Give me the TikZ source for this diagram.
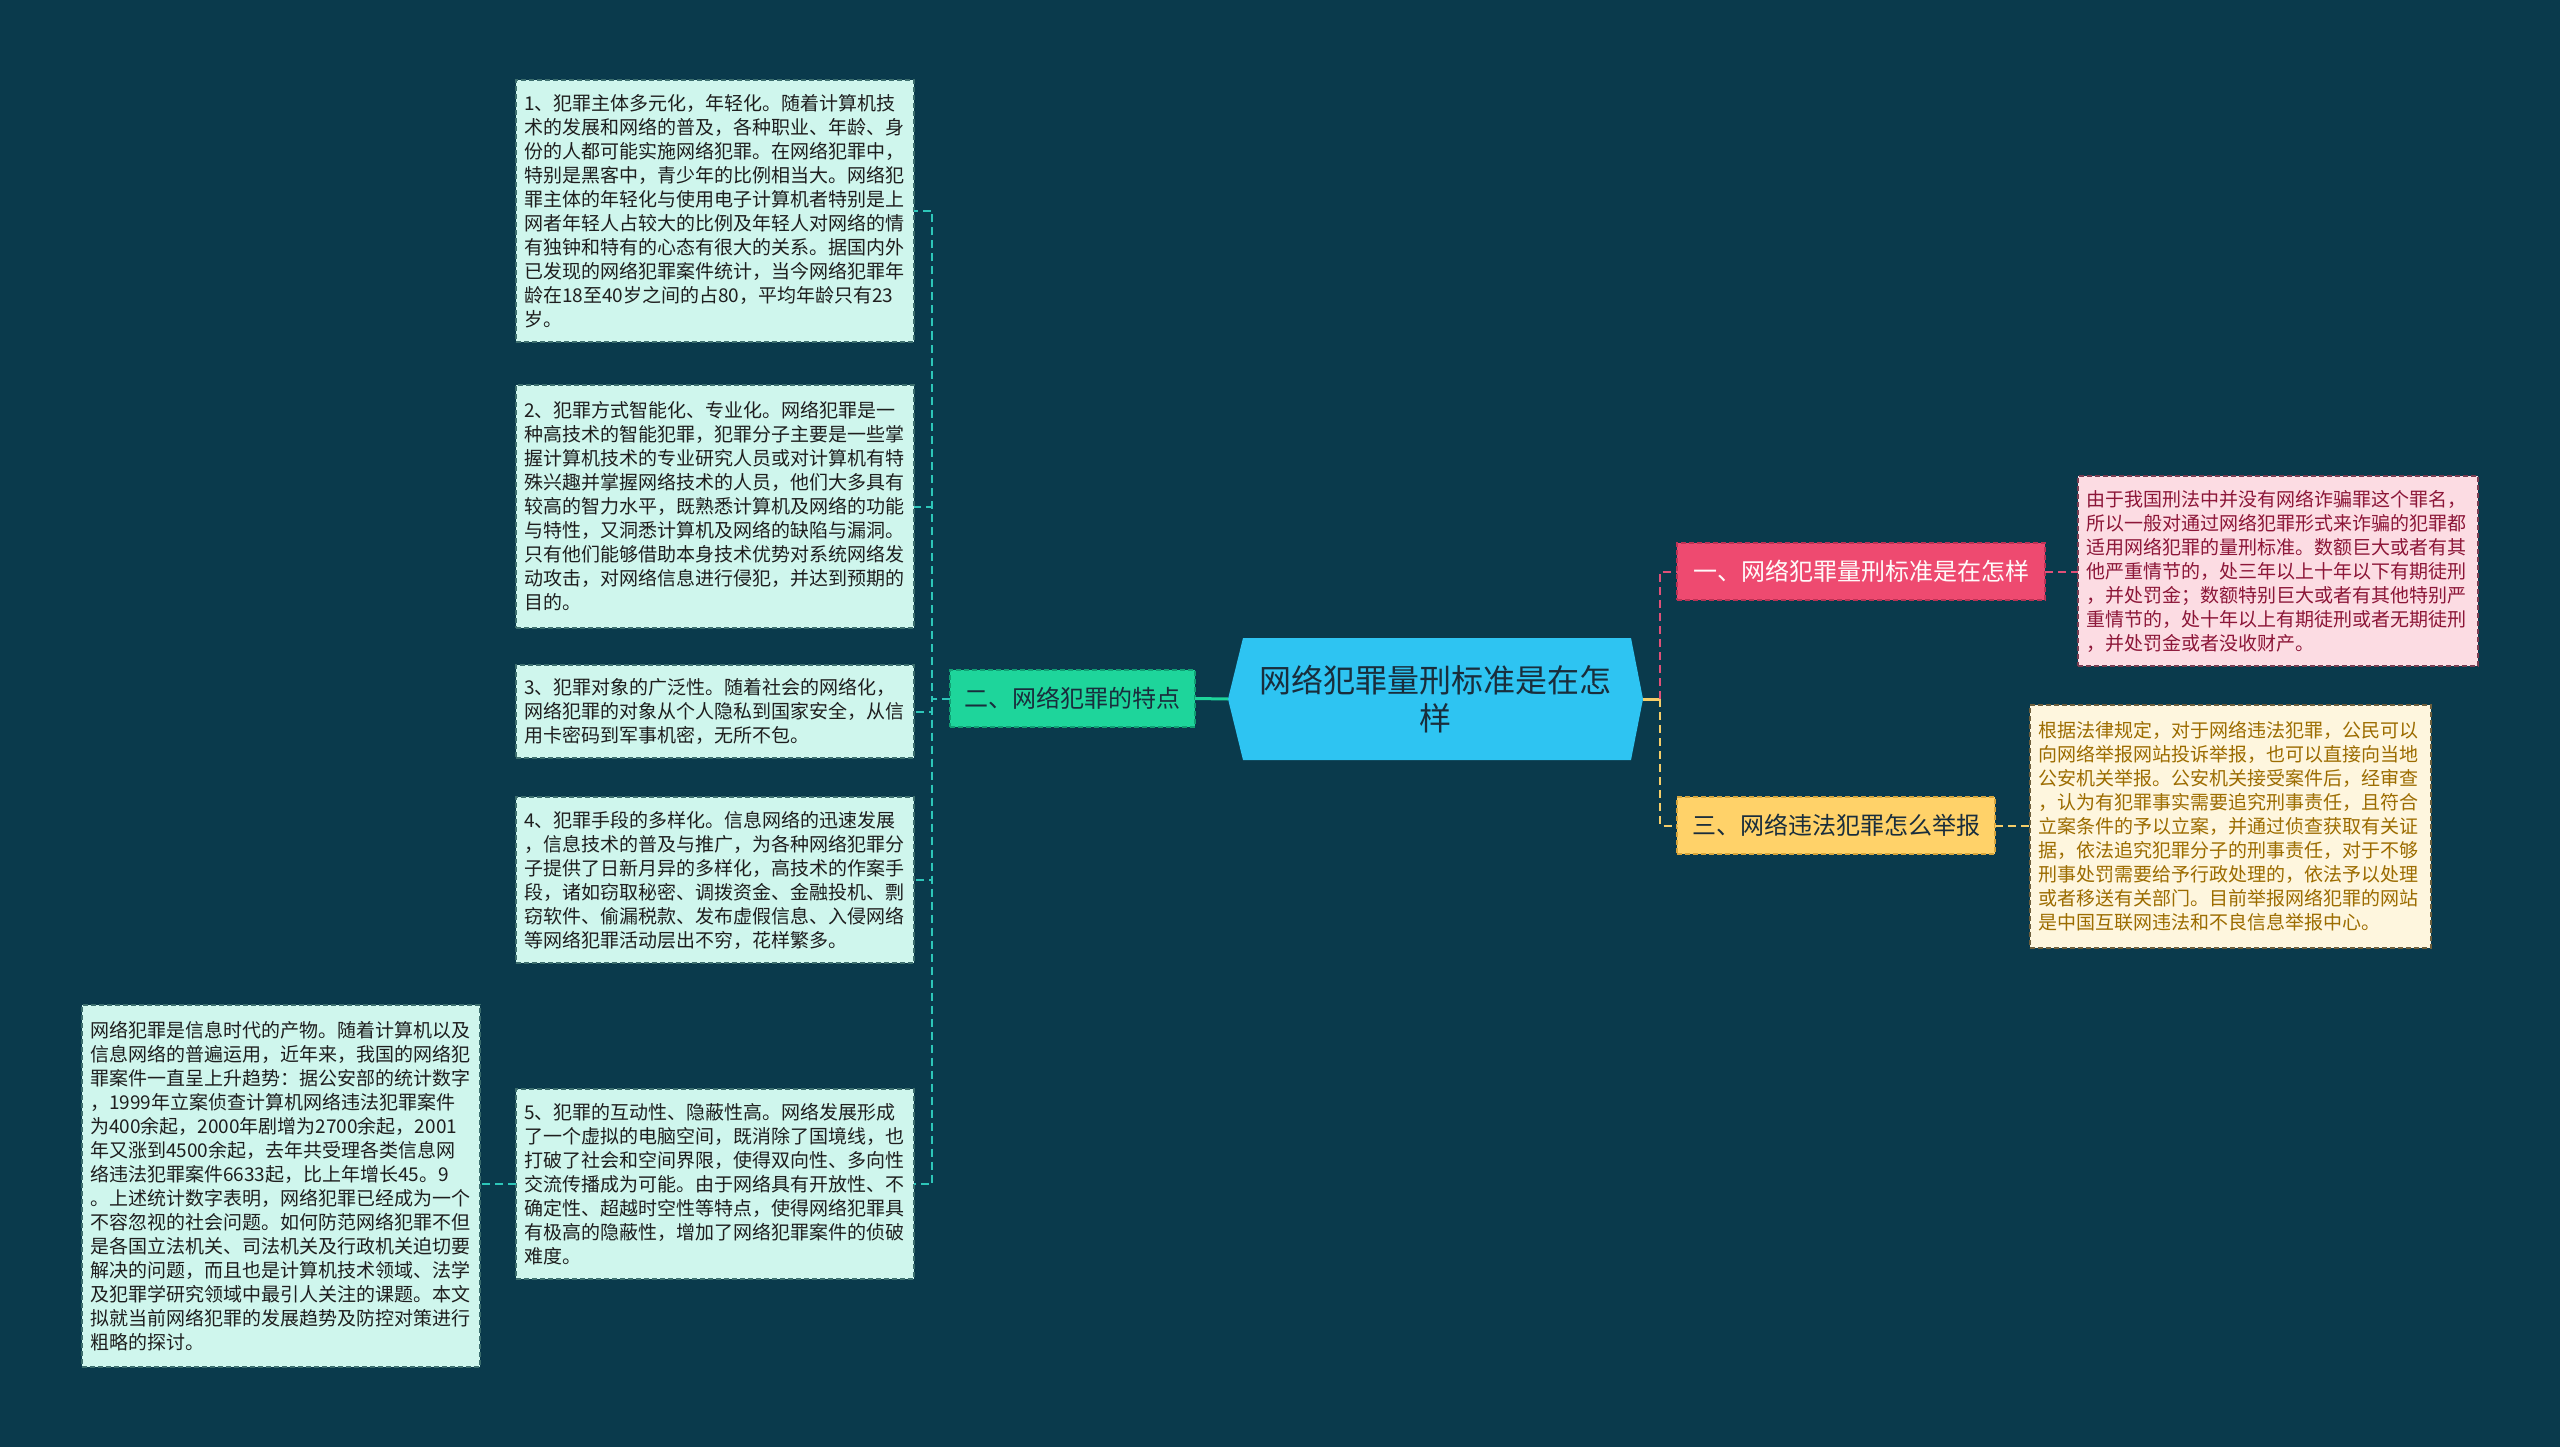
\documentclass[tikz,border=0pt]{standalone}
\usepackage{fontspec}
\newfontfamily\cjk{Noto Sans CJK SC}
\definecolor{bg}{RGB}{10,58,76}
\definecolor{leaffill}{RGB}{207,246,237}
\definecolor{leafborder}{RGB}{60,110,110}
\definecolor{leaftext}{RGB}{30,30,30}
\definecolor{pinkfill}{RGB}{252,220,227}
\definecolor{pinkborder}{RGB}{120,60,80}
\definecolor{pinktext}{RGB}{140,22,56}
\definecolor{ylwfill}{RGB}{254,246,222}
\definecolor{ylwborder}{RGB}{110,95,60}
\definecolor{ylwtext}{RGB}{156,108,0}
\definecolor{greennode}{RGB}{30,213,155}
\definecolor{greenborder}{RGB}{16,160,115}
\definecolor{rednode}{RGB}{238,74,112}
\definecolor{redborder}{RGB}{190,50,85}
\definecolor{yellownode}{RGB}{255,210,105}
\definecolor{yellowborder}{RGB}{215,165,60}
\definecolor{centernode}{RGB}{46,196,242}
\definecolor{nodetext}{RGB}{25,45,60}
\definecolor{tealline}{RGB}{45,198,185}
\definecolor{pinkline}{RGB}{225,80,120}
\definecolor{ylwline}{RGB}{245,205,105}
\newcommand\leaffont{\cjk\fontsize{19}{24}\selectfont}
\newcommand\topicfont{\cjk\fontsize{24}{28}\selectfont}
\begin{document}
\begin{tikzpicture}[x=1pt,y=-1pt,
  leaf/.style={dash pattern=on 5pt off 3pt, line width=1.3pt, text width=382pt,
    inner xsep=8pt, inner ysep=0pt, outer sep=0pt, align=left, anchor=north west, font=\leaffont},
  leafg/.style={leaf, draw=leafborder, fill=leaffill, text=leaftext},
  leafp/.style={leaf, draw=pinkborder, fill=pinkfill, text=pinktext, text width=384pt},
  leafy/.style={leaf, draw=ylwborder, fill=ylwfill, text=ylwtext, text width=385pt},
  topic/.style={dash pattern=on 5pt off 3pt, line width=1.3pt, inner sep=0pt, outer sep=0pt,
    minimum height=57pt, font=\topicfont, align=center},
  tline/.style={dash pattern=on 8pt off 5pt, line width=2pt, tealline},
  pline/.style={dash pattern=on 8pt off 5pt, line width=2pt, pinkline},
  yline/.style={dash pattern=on 8pt off 5pt, line width=2pt, ylwline},
]
\useasboundingbox (0,0) rectangle (2560,1447);
\fill[bg] (0,0) rectangle (2560,1447);

% central node
\node[inner sep=0pt, outer sep=0pt, minimum width=415pt, minimum height=122pt] (c) at (1435.5,699) {};
\fill[centernode] ([xshift=15pt]c.north west) -- ([xshift=-12pt]c.north east) -- (c.east)
  -- ([xshift=-12pt]c.south east) -- ([xshift=15pt]c.south west) -- (c.west) -- cycle;
\node[align=center, text=nodetext, font=\cjk\fontsize{32}{38}\selectfont] (ct) at (c.center) {网络犯罪量刑标准是在怎\\样};

% topic nodes
\node[topic, draw=greenborder, fill=greennode, text=nodetext, minimum width=245pt] (g) at (1072.5,698.5) {二、网络犯罪的特点};
\node[topic, draw=redborder, fill=rednode, text=white!92!pink, minimum width=368pt] (r) at (1861,571.5) {一、网络犯罪量刑标准是在怎样};
\node[topic, draw=yellowborder, fill=yellownode, text=nodetext, minimum width=318pt] (y) at (1836,825.5) {三、网络违法犯罪怎么举报};

% left leaves
\node[leafg, minimum height=262pt] (b1) at (516,80) {1、犯罪主体多元化，年轻化。随着计算机技\\术的发展和网络的普及，各种职业、年龄、身\\份的人都可能实施网络犯罪。在网络犯罪中，\\特别是黑客中，青少年的比例相当大。网络犯\\罪主体的年轻化与使用电子计算机者特别是上\\网者年轻人占较大的比例及年轻人对网络的情\\有独钟和特有的心态有很大的关系。据国内外\\已发现的网络犯罪案件统计，当今网络犯罪年\\龄在18至40岁之间的占80，平均年龄只有23\\岁。};
\node[leafg, minimum height=243pt] (b2) at (516,385) {2、犯罪方式智能化、专业化。网络犯罪是一\\种高技术的智能犯罪，犯罪分子主要是一些掌\\握计算机技术的专业研究人员或对计算机有特\\殊兴趣并掌握网络技术的人员，他们大多具有\\较高的智力水平，既熟悉计算机及网络的功能\\与特性，又洞悉计算机及网络的缺陷与漏洞。\\只有他们能够借助本身技术优势对系统网络发\\动攻击，对网络信息进行侵犯，并达到预期的\\目的。};
\node[leafg, minimum height=93pt] (b3) at (516,665) {3、犯罪对象的广泛性。随着社会的网络化，\\网络犯罪的对象从个人隐私到国家安全，从信\\用卡密码到军事机密，无所不包。};
\node[leafg, minimum height=166pt] (b4) at (516,797) {4、犯罪手段的多样化。信息网络的迅速发展\\，信息技术的普及与推广，为各种网络犯罪分\\子提供了日新月异的多样化，高技术的作案手\\段，诸如窃取秘密、调拨资金、金融投机、剽\\窃软件、偷漏税款、发布虚假信息、入侵网络\\等网络犯罪活动层出不穷，花样繁多。};
\node[leafg, minimum height=190pt] (b5) at (516,1089) {5、犯罪的互动性、隐蔽性高。网络发展形成\\了一个虚拟的电脑空间，既消除了国境线，也\\打破了社会和空间界限，使得双向性、多向性\\交流传播成为可能。由于网络具有开放性、不\\确定性、超越时空性等特点，使得网络犯罪具\\有极高的隐蔽性，增加了网络犯罪案件的侦破\\难度。};
\node[leafg, minimum height=362pt] (b6) at (82,1005) {网络犯罪是信息时代的产物。随着计算机以及\\信息网络的普遍运用，近年来，我国的网络犯\\罪案件一直呈上升趋势：据公安部的统计数字\\，1999年立案侦查计算机网络违法犯罪案件\\为400余起，2000年剧增为2700余起，2001\\年又涨到4500余起，去年共受理各类信息网\\络违法犯罪案件6633起，比上年增长45。9\\。上述统计数字表明，网络犯罪已经成为一个\\不容忽视的社会问题。如何防范网络犯罪不但\\是各国立法机关、司法机关及行政机关迫切要\\解决的问题，而且也是计算机技术领域、法学\\及犯罪学研究领域中最引人关注的课题。本文\\拟就当前网络犯罪的发展趋势及防控对策进行\\粗略的探讨。};

% right leaves
\node[leafp, minimum height=190pt] (p) at (2078,476) {由于我国刑法中并没有网络诈骗罪这个罪名，\\所以一般对通过网络犯罪形式来诈骗的犯罪都\\适用网络犯罪的量刑标准。数额巨大或者有其\\他严重情节的，处三年以上十年以下有期徒刑\\，并处罚金；数额特别巨大或者有其他特别严\\重情节的，处十年以上有期徒刑或者无期徒刑\\，并处罚金或者没收财产。};
\node[leafy, minimum height=243pt] (q) at (2030,705) {根据法律规定，对于网络违法犯罪，公民可以\\向网络举报网站投诉举报，也可以直接向当地\\公安机关举报。公安机关接受案件后，经审查\\，认为有犯罪事实需要追究刑事责任，且符合\\立案条件的予以立案，并通过侦查获取有关证\\据，依法追究犯罪分子的刑事责任，对于不够\\刑事处罚需要给予行政处理的，依法予以处理\\或者移送有关部门。目前举报网络犯罪的网站\\是中国互联网违法和不良信息举报中心。};

% connectors left
\draw[line width=3pt, greennode] (c.west) -- (g.east);
\coordinate (tl) at ([xshift=-18pt]g.west);
\foreach \b in {b1,b2,b3,b4,b5}{
  \draw[tline] (g.west) -- (tl) |- (\b.east);
}
\draw[tline] (b5.west) -- (b5.west -| b6.east);

% connectors right
\coordinate (tr) at ([xshift=17pt]c.east);
\draw[line width=3pt, ylwline] (c.east) -- (tr);
\draw[pline] (tr) |- (r.west);
\draw[yline] (tr) |- (y.west);
\draw[pline] (r.east) -- (r.east -| p.west);
\draw[yline] (y.east) -- (y.east -| q.west);
\end{tikzpicture}
\end{document}
